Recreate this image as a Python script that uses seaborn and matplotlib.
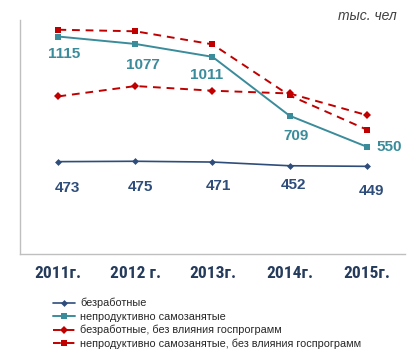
import pandas as pd
import seaborn as sns
import matplotlib.pyplot as plt

years = ["2011г.", "2012 г.", "2013г.", "2014г.", "2015г."]
unemployed = [473, 475, 471, 452, 449]
self_employed = [1115, 1077, 1011, 709, 550]
unemployed_nogov = [808, 861, 837, 823, 712]
self_employed_nogov = [1150, 1142, 1075, 813, 638]

names = ["безработные", "непродуктивно самозанятые",
         "безработные, без влияния госпрограмм",
         "непродуктивно самозанятые, без влияния госпрограмм"]

sns.set_style("white")
plt.rcParams['font.family'] = ['Liberation Sans', 'DejaVu Sans']
narrow = ['Roboto Condensed', 'Liberation Sans', 'DejaVu Sans']

navy = "#2E4D7B"
teal = "#3A8C9B"
red = "#C00000"

df = pd.DataFrame({
    "x": list(range(5)) * 4,
    "value": unemployed + self_employed + unemployed_nogov + self_employed_nogov,
    "series": [n for n in names for _ in range(5)],
})

fig = plt.figure(figsize=(4.15, 3.57), dpi=100)
ax = fig.add_axes([0.048, 0.289, 0.928, 0.655])

styles = {
    names[0]: dict(color=navy, marker="D", ls="-", ms=3.5, lw=1.2),
    names[1]: dict(color=teal, marker="s", ls="-", ms=4, lw=1.4),
    names[2]: dict(color=red, marker="D", ls=(0, (4, 3)), ms=4, lw=1.4),
    names[3]: dict(color=red, marker="s", ls=(0, (4, 3)), ms=4, lw=1.4),
}
for n in names:
    s = styles[n]
    sns.lineplot(data=df[df.series == n], x="x", y="value", ax=ax, label=n,
                 color=s["color"], marker=s["marker"], linestyle=s["ls"],
                 markersize=s["ms"], linewidth=s["lw"], markeredgewidth=0)

ax.set_ylim(0, 1200)
ax.set_xlim(-0.5, 4.5)
ax.set_yticks([])
ax.set_xticks(range(5))
ax.set_xticklabels(years, fontsize=12.5, fontweight="bold", color="#253B5C",
                   family=narrow)
ax.tick_params(axis="x", length=0, pad=9)
ax.set_xlabel("")
ax.set_ylabel("")
for sp in ["top", "right"]:
    ax.spines[sp].set_visible(False)
for sp in ["left", "bottom"]:
    ax.spines[sp].set_color("#BFBFBF")
    ax.spines[sp].set_linewidth(1)

# data labels
u_off = [(0.12, -135), (0.065, -130), (0.08, -123), (0.05, -98), (0.065, -128)]
for i, v in enumerate(unemployed):
    ax.text(i + u_off[i][0], v + u_off[i][1], str(v), ha="center", va="center",
            fontsize=11, fontweight="bold", color=navy)
s_off = [(0.08, -92), (0.1, -108), (-0.08, -92), (0.08, -103), (0.29, 0)]
for i, v in enumerate(self_employed):
    ax.text(i + s_off[i][0], v + s_off[i][1], str(v), ha="center", va="center",
            fontsize=11, fontweight="bold", color=teal)

fig.text(0.885, 0.955, "тыс. чел", ha="center", va="center", fontsize=10,
         style="italic", color="#404040")

ax.legend(loc="upper left", bbox_to_anchor=(0.075, -0.17), frameon=False,
          fontsize=7.8, handlelength=2.0, handletextpad=0.5, labelspacing=0.3,
          borderaxespad=0)

fig.savefig("out.png", dpi=100)
